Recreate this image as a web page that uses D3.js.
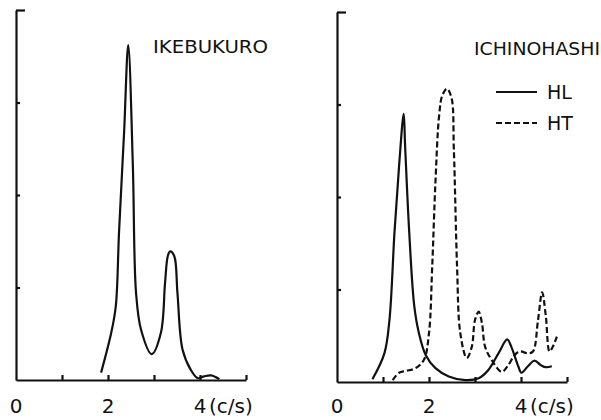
<!DOCTYPE html>
<html>
<head>
	<script src="https://cdn.jsdelivr.net/npm/d3@7"></script>
	<style>
		body { margin: 0; background: #fff; }
		text { font-family: "DejaVu Sans", sans-serif; fill: #111; }
	</style>
</head>
<body>
	<script type="text/javascript">

		//Ikebukuro spectrum, [frequency c/s, amplitude]
		var ikeFreq = [1.85, 2.07, 2.17, 2.24, 2.35, 2.44, 2.54, 2.61, 2.72, 2.95, 3.15, 3.24, 3.30, 3.35, 3.44, 3.51, 3.62, 3.80, 3.95, 4.09, 4.24, 4.42];
		var ikeAmp  = [0.08, 0.51, 0.80, 1.60, 2.68, 3.62, 2.32, 0.94, 0.54, 0.28, 0.51, 1.05, 1.34, 1.39, 1.34, 0.94, 0.33, 0.11, 0.02, 0.04, 0.05, 0.01];

		//Ichinohashi HL (solid)
		var hlFreq = [0.77, 1.03, 1.14, 1.25, 1.35, 1.45, 1.48, 1.57, 1.68, 1.78, 1.93, 2.14, 2.43, 2.79, 3.08, 3.29, 3.51, 3.70, 3.79, 3.94, 4.01, 4.15, 4.29, 4.44, 4.54, 4.67];
		var hlAmp  = [0.03, 0.31, 0.67, 1.62, 2.34, 2.90, 2.56, 1.62, 0.82, 0.53, 0.29, 0.15, 0.06, 0.02, 0.04, 0.13, 0.31, 0.46, 0.38, 0.17, 0.10, 0.17, 0.23, 0.18, 0.16, 0.17];

		//Ichinohashi HT (dashed)
		var htFreq = [1.21, 1.35, 1.50, 1.71, 1.89, 2.00, 2.07, 2.14, 2.22, 2.29, 2.39, 2.49, 2.54, 2.61, 2.68, 2.82, 2.93, 3.00, 3.08, 3.15, 3.22, 3.36, 3.58, 3.72, 3.86, 3.97, 4.15, 4.26, 4.37, 4.46, 4.54, 4.62, 4.69, 4.78];
		var htAmp  = [0.02, 0.10, 0.12, 0.15, 0.24, 0.53, 1.25, 2.16, 2.88, 3.10, 3.17, 3.07, 2.52, 1.25, 0.53, 0.26, 0.38, 0.67, 0.76, 0.64, 0.38, 0.24, 0.11, 0.18, 0.29, 0.33, 0.31, 0.33, 0.67, 0.97, 0.71, 0.33, 0.38, 0.49];

		var xTicks = [1, 2, 3, 4, 5];
		var yTicks = [1, 2, 3, 4];
		var xLabels = [[0, "0"], [2, "2"], [4, "4"]];

		var zip = function (xs, ys) {
			return xs.map(function (x, i) { return [x, ys[i]]; });
		};

		var w = 601;
		var h = 420;

		var svg = d3.select("body")
				.append("svg")
				.attr("width", w)
				.attr("height", h);

		//draw one panel with its own origin
		function panel(x0, y0, title, titleLen, series) {
			var xScale = d3.scaleLinear().domain([0, 5]).range([x0, x0 + 230]);
			var yScale = d3.scaleLinear().domain([0, 4]).range([y0, y0 - 370]);

			var g = svg.append("g");

			//x axis, ticks pointing up
			g.append("g")
				.attr("transform", "translate(0," + y0 + ")")
				.call(d3.axisBottom(xScale).tickValues(xTicks).tickSize(-5).tickSizeOuter(0).tickFormat(""))
				.call(function (a) {
					a.selectAll("line, path").attr("stroke", "#111").attr("stroke-width", 2.2);
				});

			//y axis, ticks pointing right
			g.append("g")
				.attr("transform", "translate(" + x0 + ",0)")
				.call(d3.axisLeft(yScale).tickValues(yTicks).tickSize(-4).tickSizeOuter(0).tickFormat(""))
				.call(function (a) {
					a.selectAll("line, path").attr("stroke", "#111").attr("stroke-width", 2.2);
					a.selectAll(".tick").filter(function (d) { return d === 4; })
						.select("line").attr("x2", 9);
				});

			//tick labels
			g.selectAll(".xlab")
				.data(xLabels)
				.enter()
				.append("text")
				.attr("x", function (d) { return xScale(d[0]); })
				.attr("y", 413)
				.attr("text-anchor", "middle")
				.attr("font-size", 20)
				.text(function (d) { return d[1]; });

			g.append("text")
				.attr("x", xScale(4) + 9)
				.attr("y", 413)
				.attr("font-size", 20)
				.text("(c/s)");

			g.append("text")
				.attr("x", x0 + 137)
				.attr("y", y0 - 327)
				.attr("font-size", 18)
				.attr("textLength", titleLen)
				.attr("lengthAdjust", "spacingAndGlyphs")
				.text(title);

			var line = d3.line()
				.x(function (d) { return xScale(d[0]); })
				.y(function (d) { return yScale(d[1]); })
				.curve(d3.curveCatmullRom.alpha(0.5));

			series.forEach(function (s) {
				g.append("path")
					.datum(s.data)
					.attr("fill", "none")
					.attr("stroke", "#111")
					.attr("stroke-width", 2.2)
					.attr("stroke-dasharray", s.dash)
					.attr("d", line);
			});

			return xScale;
		}

		panel(16, 380, "IKEBUKURO", 115, [
			{ data: zip(ikeFreq, ikeAmp), dash: null }
		]);

		panel(337, 382, "ICHINOHASHI", 126, [
			{ data: zip(hlFreq, hlAmp), dash: null },
			{ data: zip(htFreq, htAmp), dash: "6,3" }
		]);

		//legend
		var legend = [["HL", null, 92], ["HT", "6,3", 123]];
		legend.forEach(function (l) {
			svg.append("line")
				.attr("x1", 496).attr("x2", 537)
				.attr("y1", l[2]).attr("y2", l[2])
				.attr("stroke", "#111")
				.attr("stroke-width", 2.2)
				.attr("stroke-dasharray", l[1]);
			svg.append("text")
				.attr("x", 547)
				.attr("y", l[2] + 7)
				.attr("font-size", 19)
				.text(l[0]);
		});

	</script>
</body>
</html>
